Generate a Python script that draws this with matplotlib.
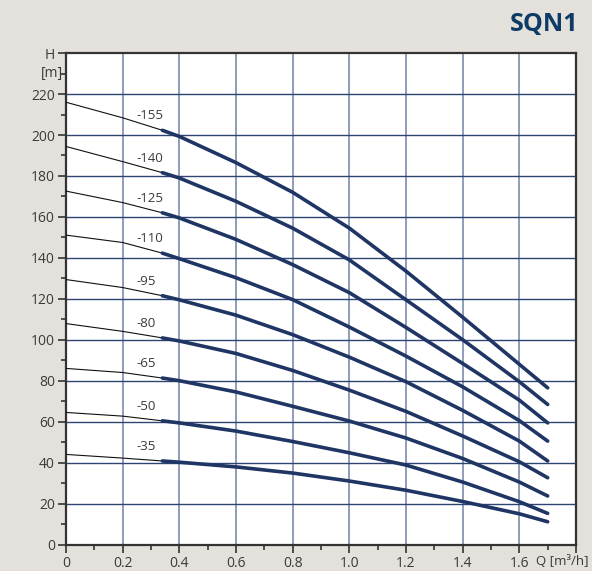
import numpy as np
from matplotlib import pyplot as plt
from matplotlib.ticker import MultipleLocator

plt.rcParams['font.family'] = ['Open Sans', 'DejaVu Sans']

# flow points (m3/h); 0.34 is where the thin part ends
flow = [0, 0.2, 0.34, 0.4, 0.6, 0.8, 1.0, 1.2, 1.4, 1.6, 1.7]

curveNames = ['-155', '-140', '-125', '-110', '-95', '-80', '-65', '-50', '-35']
h155 = [216, 208.4, 202.3, 199.3, 186.5, 172, 154.5, 133.5, 111, 88, 76.5]
h140 = [194.4, 187, 181.6, 179, 167.6, 154.5, 139, 119.5, 100, 79.5, 68.4]
h125 = [172.6, 167, 162, 159.5, 149, 136.7, 123, 106, 88.4, 70.5, 59.4]
h110 = [151.1, 147.5, 142.3, 139.6, 130.3, 119.6, 106.2, 92, 77, 60.5, 50.5]
h95 = [129.4, 125.5, 121.5, 119.5, 112, 102.5, 91.5, 79.5, 65.5, 50.5, 40.8]
h80 = [107.9, 104.1, 100.9, 99.4, 93.3, 85, 75.4, 65, 53, 40.4, 32.6]
h65 = [86, 84, 81.3, 80, 74.5, 67.5, 60.3, 52, 42, 30.5, 23.7]
h50 = [64.5, 62.7, 60.4, 59.4, 55.4, 50.3, 44.8, 38.8, 30.5, 20.9, 15.2]
h35 = [44, 42.2, 40.8, 40.2, 37.9, 34.9, 31, 26.5, 21, 15, 11.1]
curves = [h155, h140, h125, h110, h95, h80, h65, h50, h35]

xTicks = [0, 0.2, 0.4, 0.6, 0.8, 1.0, 1.2, 1.4, 1.6]
xTickLabels = ['0', '0.2', '0.4', '0.6', '0.8', '1.0', '1.2', '1.4', '1.6']
yTicks = [0, 20, 40, 60, 80, 100, 120, 140, 160, 180, 200, 220, 240]
yTickLabels = ['0', '20', '40', '60', '80', '100', '120', '140', '160', '180', '200', '220', 'H']

bg = '#e4e1dc'
navy = '#1f3564'
textColor = '#3a3a3a'

fig = plt.figure(figsize=(5.92, 5.71), dpi=100, facecolor=bg)
ax = fig.add_axes([0.1115, 0.0464, 0.8615, 0.8606])
ax.set_xlim(0, 1.8)
ax.set_ylim(0, 240)

# grid
for x in xTicks[1:]:
    ax.axvline(x, color='#8894b3', lw=1.3, zorder=1)
for y in yTicks[1:-1]:
    ax.axhline(y, color='#2e4472', lw=1.0, zorder=1)

split = flow.index(0.34)
for name, h in zip(curveNames, curves):
    ax.plot(flow[:split + 1], h[:split + 1], color='#111111', lw=0.8, zorder=3)
    ax.plot(flow[split:], h[split:], color=navy, lw=2.6, zorder=3,
            solid_capstyle='round', solid_joinstyle='round')
    ax.text(0.25, h[split] + 7, name, fontsize=9.5, color=textColor,
            ha='left', va='center', zorder=4)

ax.set_xticks(xTicks + [1.8])
ax.set_xticklabels(xTickLabels + [''])
ax.set_yticks(yTicks)
ax.set_yticklabels(yTickLabels)
ax.xaxis.set_minor_locator(MultipleLocator(0.1))
ax.yaxis.set_minor_locator(MultipleLocator(10))
ax.tick_params(which='major', direction='out', length=6, width=1.2,
               colors='#333333', labelsize=10, labelcolor=textColor, pad=2)
ax.tick_params(which='minor', direction='out', length=3.5, width=1.2,
               colors='#333333')
for s in ax.spines.values():
    s.set_color('#333333')
    s.set_linewidth(1.6)

ax.text(-0.012, 230, '[m]', transform=ax.transData, ha='right', va='center',
        fontsize=10, color=textColor)
ax.text(1.66, -8.5, 'Q [m³/h]', ha='left', va='center', fontsize=9.5,
        color=textColor, clip_on=False)

fig.text(0.977, 0.957, 'SQN1', ha='right', va='center', fontsize=18,
         fontweight='bold', color='#0e3a66')

fig.savefig('out.png', dpi=100, facecolor=bg)
